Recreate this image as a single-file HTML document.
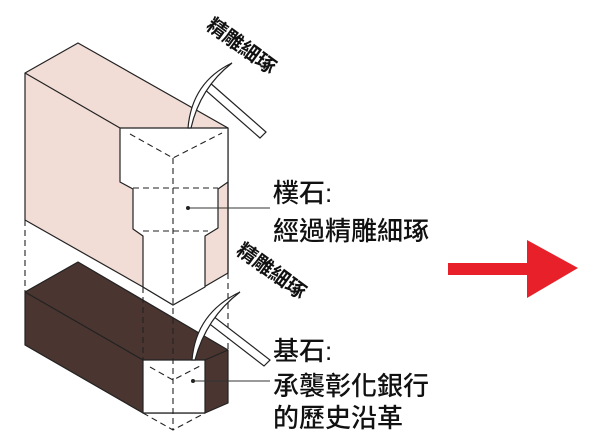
<!DOCTYPE html>
<html><head><meta charset="utf-8"><style>
html,body{margin:0;padding:0;background:#fff;}
svg{display:block}
.t{font-family:"Liberation Sans","Noto Sans CJK TC",sans-serif;font-size:26px;font-weight:500;fill:#111;}
.r{font-family:"Liberation Sans","Noto Sans CJK TC",sans-serif;font-size:20px;font-weight:bold;fill:#111;}
</style></head><body>
<svg width="600" height="446" viewBox="0 0 600 446" xmlns="http://www.w3.org/2000/svg">
<g stroke="#222" stroke-width="1.2" stroke-linejoin="round">
<polygon points="25,292 78,262 228,350 228,403 205,413 143,413 25,345" fill="#4a3530"/>
<line x1="25" y1="292" x2="143" y2="360"/>
<polygon points="143,360 205,360 205,413 143,413" fill="#fff"/>
<line x1="205" y1="360" x2="228" y2="350"/>
<polygon points="25,73 78,43 228,128 228,273 173,305 143,287 25,220" fill="#f1ddd6"/>
<line x1="25" y1="73" x2="120" y2="128"/>
<polygon points="120,128 228,128 228,182 218,189 218,228 205,236 205,287 173,305 143,287 143,236 133,229 133,189 120,182" fill="#fff"/>
<line x1="228" y1="182" x2="228" y2="273"/>
</g>
<g stroke="#222" stroke-width="1.1" stroke-dasharray="6,4" fill="none">
<polyline points="130,134 173,158 222,133"/>
<line x1="173" y1="158" x2="173" y2="430"/>
<line x1="133" y1="188" x2="218" y2="188"/>
<line x1="143" y1="231" x2="208" y2="231"/>
<line x1="25" y1="220" x2="25" y2="292"/>
<line x1="143" y1="287" x2="143" y2="360"/>
<line x1="228" y1="273" x2="228" y2="350"/>
<polyline points="150,367 173,380 200,366"/>
<polyline points="143,413 173,430 205,413"/>
</g>
<line x1="188" y1="208" x2="270" y2="208" stroke="#333" stroke-width="1"/>
<circle cx="188" cy="208" r="2" fill="#222"/>
<line x1="193" y1="381" x2="270" y2="381" stroke="#333" stroke-width="1"/>
<circle cx="193" cy="381" r="2" fill="#222"/>
<g stroke="#222" stroke-width="1.2" fill="#fff">
<polygon points="203,88 209,82 266,132 260,138"/>
<path d="M188,128 Q192,82 232,63 Q200,88 191,128 Z" fill="#fff"/>
<polygon points="207,322 213,316 270,360 264,366"/>
<path d="M192,360 Q196,313 240,292 Q206,318 195,360 Z" fill="#fff"/>
</g>
<text class="r" transform="translate(205,28) rotate(36)">精雕細琢</text>
<text class="r" transform="translate(235,253) rotate(36)">精雕細琢</text>
<text class="t" x="273" y="202">樸石:</text>
<text class="t" x="273" y="240">經過精雕細琢</text>
<text class="t" x="273" y="360">基石:</text>
<text class="t" x="273" y="395">承襲彰化銀行</text>
<text class="t" x="273" y="427">的歷史沿革</text>
<polygon points="448,263 527,263 527,240 578,268 527,298 527,275 448,275" fill="#e8202a"/>
</svg>
</body></html>
